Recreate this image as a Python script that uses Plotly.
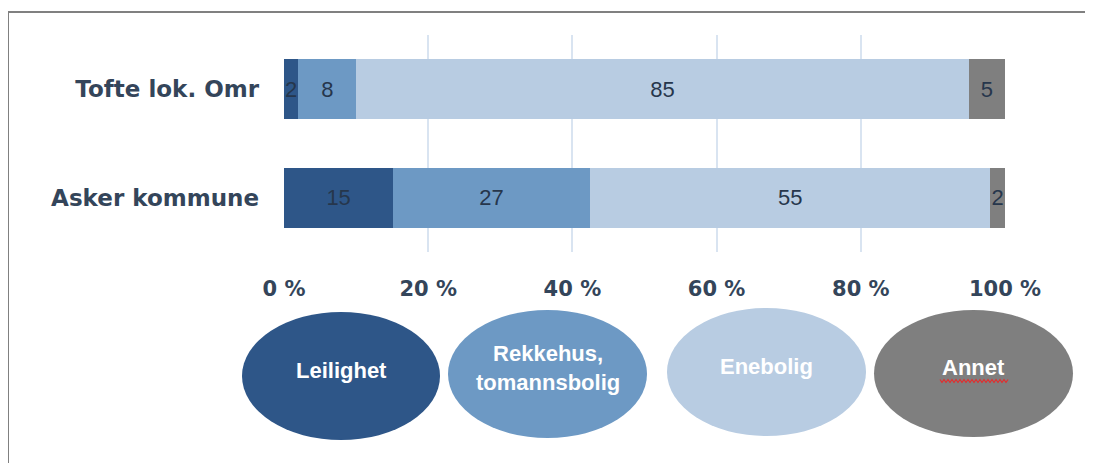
import plotly.graph_objects as go

# data
groups = ["Asker kommune", "Tofte lok. Omr"]
series = ["Leilighet", "Rekkehus, tomannsbolig", "Enebolig", "Annet"]
leilighet = [15, 2]
rekkehus = [27, 8]
enebolig = [55, 85]
annet = [2, 5]
x_ticks = [0, 20, 40, 60, 80, 100]
x_tick_labels = ["0 %", "20 %", "40 %", "60 %", "80 %", "100 %"]

values = [leilighet, rekkehus, enebolig, annet]
colors = ["#2e5688", "#6d99c4", "#b8cce2", "#7f7f7f"]
legend_text = ["Leilighet", "Rekkehus,<br>tomannsbolig", "Enebolig", "Annet"]

# page body has an 8px margin, so work in screen pixels and shift
OFF = 8
W, H = 1093 - OFF, 463 - OFF
ML, MR, MT, MB = 284 - OFF, 88, 35 - OFF, 211
PW, PH = W - ML - MR, H - MT - MB


def px(xs):
    return (xs - OFF - ML) / PW


def py(ys):
    return (H - MB - (ys - OFF)) / PH


fig = go.Figure()
for name, vals, col in zip(series, values, colors):
    fig.add_trace(go.Bar(
        y=groups, x=vals, name=name, orientation="h",
        marker=dict(color=col, line=dict(width=0)),
        text=[str(v) for v in vals], textposition="inside",
        insidetextanchor="middle", constraintext="none", textangle=0,
        textfont=dict(family="Liberation Sans, Arial", size=22, color="#26364c"),
    ))

fig.update_layout(
    barmode="stack", barnorm="percent", bargap=0.45,
    width=W, height=H, showlegend=False,
    margin=dict(l=ML, r=MR, t=MT, b=MB),
    paper_bgcolor="white", plot_bgcolor="white",
)
fig.update_xaxes(
    range=[0, 100], tickvals=x_ticks, ticktext=x_tick_labels,
    showgrid=True, gridcolor="#d9e4f1", gridwidth=2,
    zeroline=False, showline=False, ticklabelstandoff=22,
    tickfont=dict(family="DejaVu Sans", size=21, color="#34455a", weight="bold"),
)
fig.update_yaxes(
    showgrid=False, zeroline=False, showline=False, ticklabelstandoff=24,
    tickfont=dict(family="DejaVu Sans", size=23, color="#34455a", weight="bold"),
)

# frame lines (top and left)
fig.add_shape(type="line", xref="paper", yref="paper",
              x0=px(8), x1=px(1093), y0=py(12), y1=py(12),
              line=dict(color="#808080", width=2))
fig.add_shape(type="line", xref="paper", yref="paper",
              x0=px(8), x1=px(8), y0=py(12), y1=py(463),
              line=dict(color="#808080", width=2))

# ellipse legend
ell_x = [(242, 440), (448, 647), (667, 866), (874, 1073)]
ell_y = [(312, 440), (310, 438), (308, 436), (310, 437)]
for (x0, x1), (y0, y1), col, txt in zip(ell_x, ell_y, colors, legend_text):
    fig.add_shape(type="circle", xref="paper", yref="paper",
                  x0=px(x0), x1=px(x1), y0=py(y1), y1=py(y0),
                  fillcolor=col, line=dict(width=0))
    fig.add_annotation(xref="paper", yref="paper",
                       x=px((x0 + x1) / 2), y=py((y0 + y1) / 2 - 6),
                       xanchor="center", yanchor="middle",
                       text="<b>" + txt + "</b>", showarrow=False,
                       font=dict(family="Liberation Sans Narrow, Liberation Sans", size=22, color="white"))

# red spell-check squiggle under "Annet"
zx = list(range(940, 1009, 2))
path = "M " + " L ".join(f"{px(x)},{py(381 + (1.5 if i % 2 else -1.5))}" for i, x in enumerate(zx))
fig.add_shape(type="path", xref="paper", yref="paper", path=path,
              line=dict(color="#e03030", width=1.2))

fig.write_html("out.html")
